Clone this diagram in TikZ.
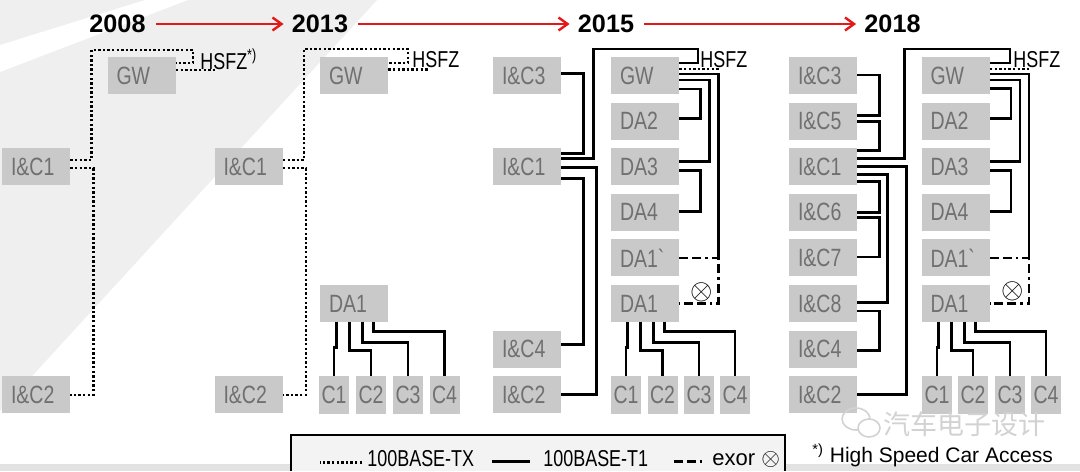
\documentclass[tikz,border=0pt]{standalone}
\usepackage{fontspec}
\setmainfont{Liberation Sans}
\newfontfamily\condfont{Liberation Sans}[FakeStretch=0.78]
\newfontfamily\cjkfont{Noto Sans CJK SC}
\usetikzlibrary{arrows.meta,calc,positioning}
\definecolor{slidegray}{RGB}{239,239,239}
\definecolor{stripgray}{RGB}{226,226,226}
\definecolor{boxgray}{RGB}{201,201,201}
\definecolor{labelgray}{RGB}{112,112,112}
\definecolor{yearred}{RGB}{228,24,24}
\definecolor{legendfill}{RGB}{243,243,243}

\begin{document}
\begin{tikzpicture}[x=0.5pt,y=-0.5pt,
  ecu/.style={fill=boxgray,text=labelgray,font=\condfont\fontsize{12.5}{13}\selectfont,
    minimum height=18.5pt,text width=25pt,inner xsep=4.5pt,inner ysep=0pt,align=left},
  cell/.style={fill=boxgray,text=labelgray,font=\condfont\fontsize{12.5}{13}\selectfont,
    minimum width=15pt,minimum height=19pt,inner sep=0pt},
  hsfz/.style={anchor=west,inner sep=0pt,font=\condfont\fontsize{11.5}{12}\selectfont},
  year/.style={inner sep=0pt,font=\bfseries\fontsize{12.6}{13}\selectfont},
  progress/.style={yearred,line width=1.2pt,-{Straight Barb[length=4.5pt,width=6.5pt]},
    shorten <=5pt,shorten >=4pt},
  tx/.style={line width=1.2pt,dash pattern=on 1.2pt off 1.1pt},
  t1/.style={line width=1.4pt},
  exor/.style={line width=1.4pt,dash pattern=on 4.5pt off 2pt on 4.5pt off 2pt on 1.2pt off 2pt},
  xor/.style={inner sep=0pt,font=\fontsize{15}{15}\selectfont},
  legtext/.style={anchor=west,inner sep=0pt,font=\condfont\fontsize{11.5}{12}\selectfont}]
 \useasboundingbox (0,0) rectangle (1080,471);
 \fill[slidegray] (0,0) -- (377,0) -- (0,411) -- cycle;
 \fill[white] (0,45) -- (145,0) -- (188,0) -- (0,72) -- cycle;
 \fill[stripgray] (0,464) rectangle (1080,471);

 \node[year] (y2008) at (117.5,24) {2008};
 \node[year] (y2013) at (320,24) {2013};
 \node[year] (y2015) at (606,24) {2015};
 \node[year] (y2018) at (892.5,24) {2018};
 \draw[progress] (y2008) -- (y2013);
 \draw[progress] (y2013) -- (y2015);
 \draw[progress] (y2015) -- (y2018);

 % 2008
 \node[ecu] (gwa) at (141.5,75.5) {GW};
 \node[ecu] (ica1) at (36,166.7) {I\&C1};
 \node[ecu] (ica2) at (36,394.7) {I\&C2};
 \node[hsfz] (hsfza) at (200,59.5) {HSFZ\textsuperscript{*)}};
 \draw[tx] ($(ica1.east)+(0,-6.5)$) -- ++(21,0) |- (193,50) |- ($(gwa.east)+(0,-12.5)$);
 \draw[tx] ($(gwa.east)+(0,-5.5)$) -- ++(40,0);
 \draw[tx] ($(ica1.east)+(0,1.5)$) -- ++(23,0) |- (ica2.east);

 % 2013
 \node[ecu] (gwb) at (354,75.5) {GW};
 \node[ecu] (icb1) at (248.5,166.7) {I\&C1};
 \node[ecu] (icb2) at (248.5,394.7) {I\&C2};
 \node[ecu] (dab1) at (354,303.5) {DA1};
 \node[cell] (cb1) at (334,395) {C1};
 \node[cell] (cb2) at (371,395) {C2};
 \node[cell] (cb3) at (408,395) {C3};
 \node[cell] (cb4) at (444.5,395) {C4};
 \node[hsfz] (hsfzb) at (412,59.5) {HSFZ};
 \draw[tx] ($(icb1.east)+(0,-6.5)$) -- ++(21,0) |- (408,49) |- ($(gwb.east)+(0,-12.5)$);
 \draw[tx] ($(gwb.east)+(0,-6)$) -- ++(40,0);
 \draw[tx] ($(icb1.east)+(0,1.5)$) -- ++(23,0) |- (icb2.east);
 \draw[t1] ($(dab1.south west)+(17,0)$) -- ++(0,25) -| (cb1.north);
 \draw[t1] ($(dab1.south west)+(30,0)$) -- ++(0,28) -| (cb2.north);
 \draw[t1] ($(dab1.south west)+(43,0)$) -- ++(0,20) -| (cb3.north);
 \draw[t1] ($(dab1.south west)+(54,0)$) -- ++(0,9) -| (cb4.north);

 % 2015
 \node[ecu] (icc3) at (527,75.5) {I\&C3};
 \node[ecu] (icc1) at (527,166.7) {I\&C1};
 \node[ecu] (icc4) at (527,349.1) {I\&C4};
 \node[ecu] (icc2) at (527,394.7) {I\&C2};
 \node[ecu] (gwc) at (645,75.5) {GW};
 \node[ecu] (dac2) at (645,121.1) {DA2};
 \node[ecu] (dac3) at (645,166.7) {DA3};
 \node[ecu] (dac4) at (645,212.3) {DA4};
 \node[ecu] (dac1p) at (645,257.9) {DA1\textasciigrave};
 \node[ecu] (dac1) at (645,303.5) {DA1};
 \node[cell] (cc1) at (626,395) {C1};
 \node[cell] (cc2) at (662.5,395) {C2};
 \node[cell] (cc3) at (699,395) {C3};
 \node[cell] (cc4) at (735,395) {C4};
 \node[hsfz] (hsfzc) at (700,59.5) {HSFZ};
 \node[xor] (xorc) at (702,292) {$\otimes$};
 \draw[t1] ($(icc3.east)+(0,-2)$) -- ++(22,0) |- ($(icc1.east)+(0,-13.5)$);
 \draw[t1] ($(icc1.east)+(0,-8.5)$) -- ++(32,0) |- (698,49) |- ($(gwc.east)+(0,-12.5)$);
 \draw[t1] ($(icc1.east)+(0,0.5)$) -- ++(35,0) |- (icc2.east);
 \draw[t1] ($(icc1.east)+(0,11.5)$) -- ++(22,0) |- ($(icc4.east)+(0,-5)$);
 \draw[tx] ($(gwc.east)+(0,-6.5)$) -- ++(40,0);
 \draw[t1] ($(gwc.east)+(0,-1.5)$) -- ++(39,0) -- ($(dac1p.east)+(39,0)$);
 \draw[t1] ($(gwc.east)+(0,4.5)$) -- ++(30,0) |- ($(dac3.east)+(0,-5)$);
 \draw[t1] ($(gwc.east)+(0,13.5)$) -- ++(21,0) |- ($(dac2.east)+(0,-3)$);
 \draw[t1] ($(dac3.east)+(0,3.5)$) -- ++(21,0) |- ($(dac4.east)+(0,-1)$);
 \draw[exor] (dac1p.east) -- ++(39,0) |- (dac1.east);
 \draw[t1] ($(dac1.south west)+(17,0)$) -- ++(0,25) -| (cc1.north);
 \draw[t1] ($(dac1.south west)+(30,0)$) -- ++(0,28) -| (cc2.north);
 \draw[t1] ($(dac1.south west)+(43,0)$) -- ++(0,20) -| (cc3.north);
 \draw[t1] ($(dac1.south west)+(54,0)$) -- ++(0,9) -| (cc4.north);

 % 2018
 \node[ecu] (icd3) at (823,75.5) {I\&C3};
 \node[ecu] (icd5) at (823,121.1) {I\&C5};
 \node[ecu] (icd1) at (823,166.7) {I\&C1};
 \node[ecu] (icd6) at (823,212.3) {I\&C6};
 \node[ecu] (icd7) at (823,257.9) {I\&C7};
 \node[ecu] (icd8) at (823,303.5) {I\&C8};
 \node[ecu] (icd4) at (823,349.1) {I\&C4};
 \node[ecu] (icd2) at (823,394.7) {I\&C2};
 \node[ecu] (gwd) at (955.5,75.5) {GW};
 \node[ecu] (dad2) at (955.5,121.1) {DA2};
 \node[ecu] (dad3) at (955.5,166.7) {DA3};
 \node[ecu] (dad4) at (955.5,212.3) {DA4};
 \node[ecu] (dad1p) at (955.5,257.9) {DA1\textasciigrave};
 \node[ecu] (dad1) at (955.5,303.5) {DA1};
 \node[cell] (cd1) at (937,395) {C1};
 \node[cell] (cd2) at (973,395) {C2};
 \node[cell] (cd3) at (1010,395) {C3};
 \node[cell] (cd4) at (1046,395) {C4};
 \node[hsfz] (hsfzd) at (1013,59.5) {HSFZ};
 \node[xor] (xord) at (1013,291) {$\otimes$};
 \draw[t1] ($(icd3.east)+(0,-0.5)$) -- ++(22,0) |- ($(icd5.east)+(0,-6)$);
 \draw[t1] (icd5.east) -- ++(22,0) |- ($(icd1.east)+(0,-16)$);
 \draw[t1] ($(icd1.east)+(0,-8)$) -- ++(47,0) |- (1010,49) |- ($(gwd.east)+(0,-12.5)$);
 \draw[t1] (icd1.east) -- ++(49,0) |- (icd2.east);
 \draw[t1] ($(icd1.east)+(0,8)$) -- ++(30,0) |- ($(icd8.east)+(0,-1)$);
 \draw[t1] ($(icd1.east)+(0,15)$) -- ++(22,0) |- (icd6.east);
 \draw[t1] ($(icd6.east)+(0,5)$) -- ++(22,0) |- ($(icd7.east)+(0,-1)$);
 \draw[t1] ($(icd8.east)+(0,7.5)$) -- ++(22,0) |- ($(icd4.east)+(0,1)$);
 \draw[tx] ($(gwd.east)+(0,-6.5)$) -- ++(41,0);
 \draw[t1] ($(gwd.east)+(0,-1.5)$) -- ++(39,0) -- ($(dad1p.east)+(39,0)$);
 \draw[t1] ($(gwd.east)+(0,4.5)$) -- ++(30,0) |- ($(dad3.east)+(0,-5)$);
 \draw[t1] ($(gwd.east)+(0,13)$) -- ++(21,0) |- ($(dad2.east)+(0,-3)$);
 \draw[t1] ($(dad3.east)+(0,3.5)$) -- ++(21,0) |- ($(dad4.east)+(0,-1)$);
 \draw[exor] (dad1p.east) -- ++(39,0) |- (dad1.east);
 \draw[t1] ($(dad1.south west)+(17,0)$) -- ++(0,25) -| (cd1.north);
 \draw[t1] ($(dad1.south west)+(30,0)$) -- ++(0,28) -| (cd2.north);
 \draw[t1] ($(dad1.south west)+(43,0)$) -- ++(0,20) -| (cd3.north);
 \draw[t1] ($(dad1.south west)+(54,0)$) -- ++(0,9) -| (cd4.north);

 % watermark
 \draw[gray!35,line width=0.8pt] (856,419) ellipse [x radius=7pt,y radius=5.5pt];
 \draw[gray!35,line width=0.8pt,fill=white] (869,428) ellipse [x radius=5.5pt,y radius=4.5pt];
 \node[text=gray!35,font=\cjkfont\fontsize{13.5}{14}\selectfont,inner sep=0pt] (mark) at (964,424) {汽车电子设计};

 % legend
 \fill[legendfill] (291,471) rectangle (785,435);
 \draw[line width=1.2pt] (291,471) |- (785,435) -- (785,471);
 \node[legtext] (ltx) at (367,459) {100BASE-TX};
 \draw[tx] ($(ltx.west)+(-5,3.5)$) -- ++(-42,0);
 \node[legtext] (lt1) at (543,459) {100BASE-T1};
 \draw[t1] ($(lt1.west)+(-13,2.5)$) -- ++(-38,0);
 \node[legtext,font=\fontsize{11}{12}\selectfont] (lxor) at (712,459) {exor {\fontsize{11.5}{12}\selectfont$\otimes$}};
 \draw[exor] ($(lxor.west)+(-38,2.5)$) -- ++(31,0);
 \node[anchor=west,inner sep=0pt,font=\fontsize{10.5}{11}\selectfont] (note) at (812,455.5) {\textsuperscript{*)} High Speed Car Access};
\end{tikzpicture}
\end{document}
